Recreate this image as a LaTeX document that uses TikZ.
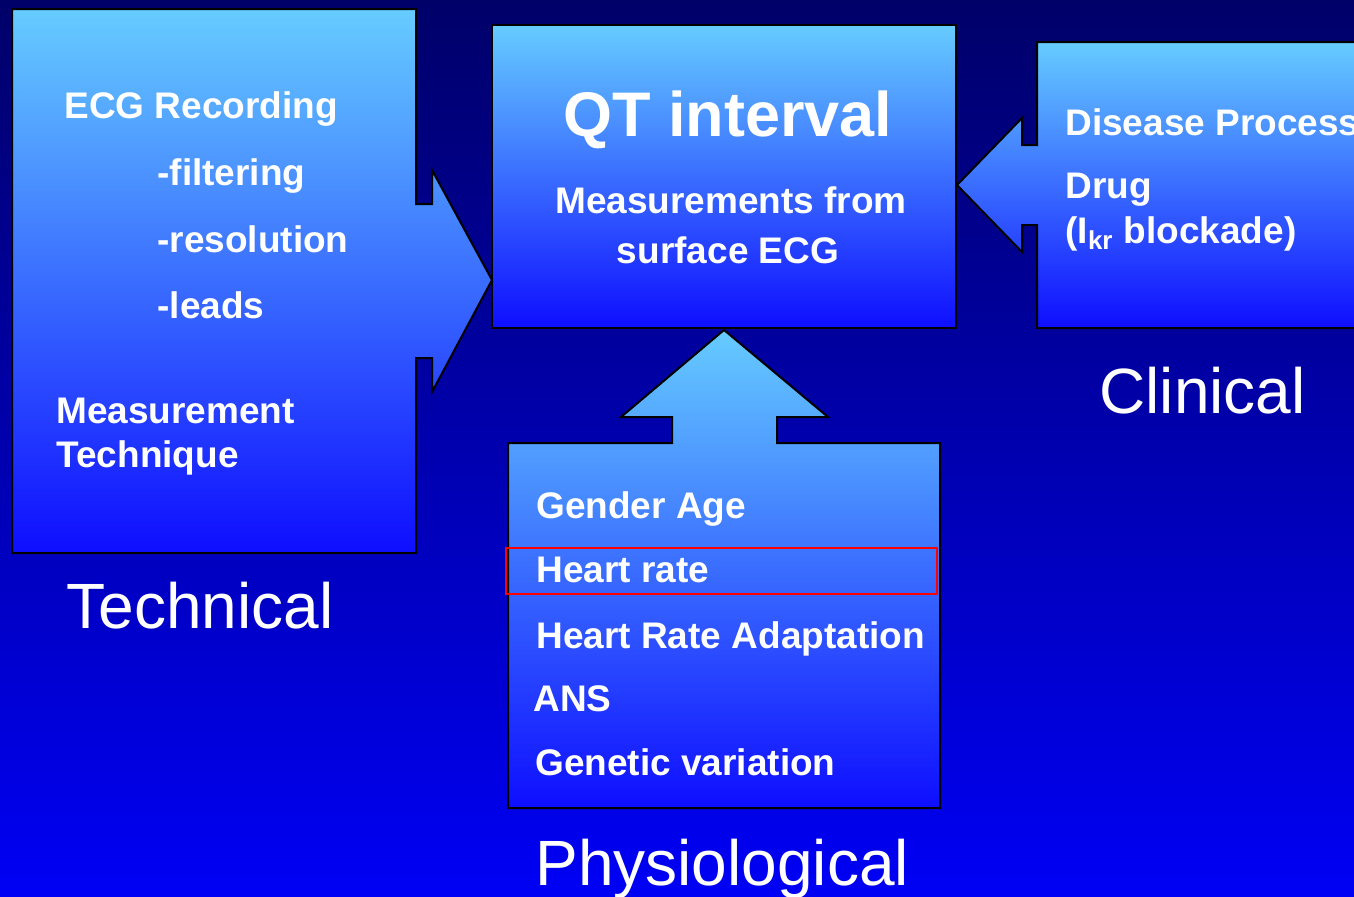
\documentclass[tikz,border=0pt]{standalone}
\usepackage{fontspec}
\setmainfont{Liberation Sans}
\usetikzlibrary{positioning}

\definecolor{bgtop}{RGB}{0,0,105}
\definecolor{bgmid}{RGB}{0,0,195}
\definecolor{bgbot}{RGB}{0,0,245}
\definecolor{boxtop}{RGB}{102,204,255}
\definecolor{boxbot}{RGB}{14,14,255}

\begin{document}
\begin{tikzpicture}[x=0.5pt,y=-0.5pt]
\tikzstyle{panel}=[draw=black,line width=1pt,line join=miter,top color=boxtop,bottom color=boxbot]
\tikzstyle{item}=[anchor=base west,text=white,inner sep=0pt,font=\fontsize{18.5}{22}\selectfont\bfseries]
\tikzstyle{group}=[anchor=base west,text=white,inner sep=0pt,font=\fontsize{32}{38}\selectfont]
\tikzstyle{headline}=[anchor=base,text=white,inner sep=0pt,font=\fontsize{31.5}{38}\selectfont\bfseries]

\useasboundingbox (0,0) rectangle (1354,896);
\shade[top color=bgtop,middle color=bgmid,bottom color=bgbot] (0,0) rectangle (1354,896);

% technical box, arrow to the right
\path[panel] (12,9) -- (416,9) -- (416,204) -- (432,204) -- (432,170) -- (492,280)
  -- (432,392) -- (432,358) -- (416,358) -- (416,553) -- (12,553) -- cycle;

% clinical box, arrow to the left
\path[panel] (1037,42) -- (1370,42) -- (1370,328) -- (1037,328) -- (1037,225) -- (1022,225)
  -- (1022,252) -- (957,185) -- (1022,118) -- (1022,145) -- (1037,145) -- cycle;

% physiological box, arrow upwards
\path[panel] (508,443) -- (672,443) -- (672,417) -- (621,417) -- (724,330) -- (828,417)
  -- (777,417) -- (777,443) -- (940,443) -- (940,808) -- (508,808) -- cycle;

% QT box
\path[panel] (492,25) rectangle (956,328);

\draw[red,line width=0.8pt] (506,548) rectangle (937,594);

\node[item] (ecg) at (64,118) {ECG Recording};
\node[item] (filter) at (157,185) {-filtering};
\node[item] (resol) at (157,252) {-resolution};
\node[item] (leads) at (157,318) {-leads};
\node[item] (measure) at (56,423) {Measurement};
\node[item] (techn) at (56,467) {Technique};
\node[group] (technical) at (66,628) {Technical};

\node[headline] (qt) at (728,136) {QT interval};
\node[item,anchor=base] (meas) at (731,213) {Measurements from};
\node[item,anchor=base] (surf) at (728,263) {surface ECG};

\node[item] (disease) at (1065,135) {Disease Process};
\node[item] (drug) at (1065,198) {Drug};
\node[item] (ikr) at (1065,243) {(I\textsubscript{kr} blockade)};
\node[group] (clinical) at (1099,413) {Clinical};

\node[item] (gender) at (536,518) {Gender Age};
\node[item] (hr) at (536,582) {Heart rate};
\node[item] (hra) at (536,648) {Heart Rate Adaptation};
\node[item] (ans) at (533,711) {ANS};
\node[item] (genetic) at (535,775) {Genetic variation};
\node[group] (physio) at (535,885) {Physiological};

\end{tikzpicture}
\end{document}
